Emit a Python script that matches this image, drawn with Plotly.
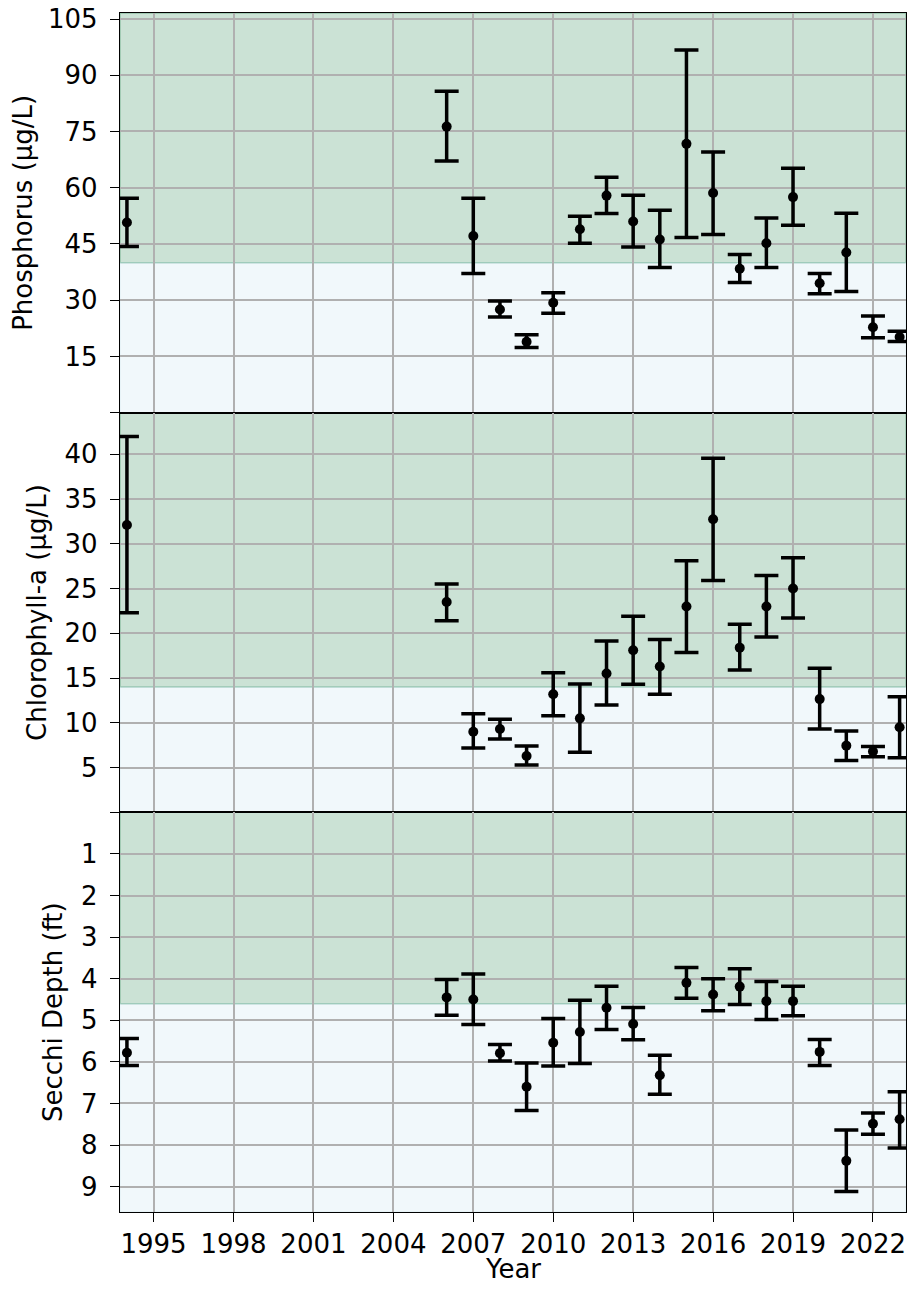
import plotly.graph_objects as go
from plotly.subplots import make_subplots

years = [1994, 2006, 2007, 2008, 2009, 2010, 2011, 2012, 2013, 2014, 2015,
         2016, 2017, 2018, 2019, 2020, 2021, 2022, 2023]

# Phosphorus (ug/L): mean, lower bound, upper bound
tp_mean = [50.7, 76.3, 47.1, 27.5, 18.9, 29.3, 48.9, 57.9, 51.0, 46.2, 71.7,
           58.6, 38.4, 45.2, 57.5, 34.5, 42.7, 22.8, 20.2]
tp_low = [44.3, 67.1, 37.1, 25.5, 17.4, 26.5, 45.2, 53.1, 44.2, 38.7, 46.7,
          47.5, 34.7, 38.7, 50.0, 31.7, 32.3, 20.0, 19.0]
tp_high = [57.2, 85.7, 57.2, 29.8, 20.8, 32.0, 52.4, 62.8, 58.0, 54.0, 96.7,
           69.5, 42.2, 51.9, 65.2, 37.1, 53.2, 25.8, 21.7]

# Chlorophyll-a (ug/L)
chl_mean = [32.1, 23.5, 9.0, 9.3, 6.3, 13.2, 10.5, 15.5, 18.1, 16.3, 23.0,
            32.75, 18.4, 23.0, 25.0, 12.65, 7.45, 6.8, 9.5]
chl_low = [22.3, 21.4, 7.2, 8.2, 5.3, 10.8, 6.7, 12.0, 14.3, 13.2, 17.85,
           25.9, 15.9, 19.6, 21.7, 9.3, 5.8, 6.2, 6.1]
chl_high = [42.0, 25.5, 11.0, 10.4, 7.4, 15.6, 14.35, 19.15, 21.9, 19.3, 28.1,
            39.55, 21.0, 26.45, 28.45, 16.1, 9.1, 7.35, 12.9]

# Secchi depth (ft)
sd_mean = [5.78, 4.45, 4.50, 5.79, 6.60, 5.54, 5.28, 4.70, 5.09, 6.32, 4.10,
           4.38, 4.19, 4.54, 4.54, 5.76, 8.38, 7.49, 7.38]
sd_low = [5.44, 4.02, 3.89, 5.58, 6.03, 4.96, 4.52, 4.18, 4.69, 5.84, 3.73,
          4.00, 3.76, 4.07, 4.18, 5.46, 7.64, 7.23, 6.72]
sd_high = [6.09, 4.88, 5.10, 5.98, 7.17, 6.10, 6.04, 5.22, 5.47, 6.78, 4.47,
           4.77, 4.62, 4.98, 4.89, 6.09, 9.12, 7.74, 8.07]

tp_threshold = 40
chl_threshold = 14
sd_threshold = 4.6

tp_ticks = [0, 15, 30, 45, 60, 75, 90, 105]
chl_ticks = [0, 5, 10, 15, 20, 25, 30, 35, 40]
sd_ticks = [0, 1, 2, 3, 4, 5, 6, 7, 8, 9]
x_ticks = [1995, 1998, 2001, 2004, 2007, 2010, 2013, 2016, 2019, 2022]

FONT = "DejaVu Sans"
FS = 26
GREEN = "rgba(46,139,87,0.25)"
GREEN_EDGE = "rgba(46,139,87,0.35)"
LIGHT = "rgba(173,216,230,0.17)"
LIGHT_EDGE = "rgba(173,216,230,0.2)"

fig = make_subplots(rows=3, cols=1, shared_xaxes=True, vertical_spacing=0)

panels = [
    (tp_mean, tp_low, tp_high),
    (chl_mean, chl_low, chl_high),
    (sd_mean, sd_low, sd_high),
]
for i, (m, lo, hi) in enumerate(panels, start=1):
    fig.add_trace(go.Scatter(
        x=years, y=m, mode="markers",
        marker=dict(color="black", size=10),
        error_y=dict(type="data", symmetric=False,
                     array=[h - v for h, v in zip(hi, m)],
                     arrayminus=[v - l for v, l in zip(m, lo)],
                     color="black", thickness=3.5, width=12),
        showlegend=False,
    ), row=i, col=1)

ranges = [[0, 106.6], [0, 44.65], [9.61, 0.0]]


def band(row, y0, y1, fill, edge):
    yref = "y" if row == 1 else f"y{row}"
    xref = "x domain" if row == 1 else f"x{row} domain"
    fig.add_shape(type="rect", xref=xref, yref=yref, x0=0, x1=1, y0=y0, y1=y1,
                  fillcolor=fill, line=dict(color=edge, width=1.5), layer="below")


band(1, tp_threshold, ranges[0][1], GREEN, GREEN_EDGE)
band(1, 0, tp_threshold, LIGHT, LIGHT_EDGE)
band(2, chl_threshold, ranges[1][1], GREEN, GREEN_EDGE)
band(2, 0, chl_threshold, LIGHT, LIGHT_EDGE)
band(3, 0, sd_threshold, GREEN, GREEN_EDGE)
band(3, sd_threshold, ranges[2][0], LIGHT, LIGHT_EDGE)

axis_common = dict(showline=True, mirror=True, linecolor="black", linewidth=1.3,
                   showgrid=True, gridcolor="#b0b0b0", gridwidth=1.5,
                   zeroline=False, tickfont=dict(family=FONT, size=FS, color="black"),
                   tickcolor="black", tickwidth=1.3, ticklabeloverflow="allow",
                   automargin=False)

titles = ["Phosphorus (\u00b5g/L)", "Chlorophyll-a (\u00b5g/L)", "Secchi Depth (ft)"]
tickset = [tp_ticks, chl_ticks, sd_ticks]
for i in range(3):
    fig.update_yaxes(
        row=i + 1, col=1, range=ranges[i], autorange=False,
        tickmode="array", tickvals=tickset[i],
        ticktext=["" if t == 0 else str(t) for t in tickset[i]],
        ticks="outside", ticklen=9, ticklabelstandoff=7,
        title=dict(text=titles[i], font=dict(family=FONT, size=FS, color="black"),
                   standoff=10),
        **axis_common)
    fig.update_xaxes(
        row=i + 1, col=1, range=[1993.74, 2023.24], autorange=False,
        tickmode="array", tickvals=x_ticks,
        ticks="outside" if i == 2 else "", ticklen=9,
        showticklabels=(i == 2),
        **axis_common)

fig.add_annotation(text="Year", xref="x3 domain", x=0.5, yref="y3 domain", y=0,
                   yanchor="middle", yshift=-57, showarrow=False,
                   font=dict(family=FONT, size=FS, color="black"))

# the page body offsets the figure by 8px; size it so the whole plot stays visible
fig.update_layout(
    width=901, height=1275,
    margin=dict(l=112, r=3, t=5, b=71),
    paper_bgcolor="white", plot_bgcolor="white",
    font=dict(family=FONT, size=FS, color="black"),
)

fig.write_html("out.html")
